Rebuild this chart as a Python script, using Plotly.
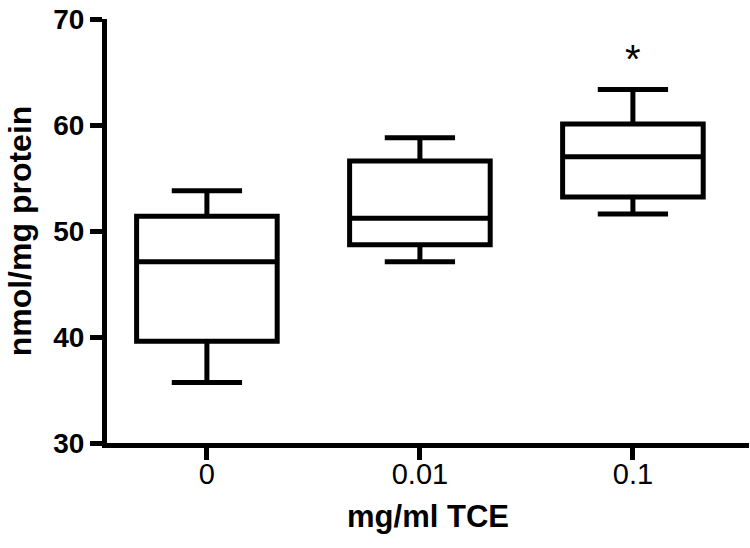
import plotly.graph_objects as go

categories = ["0", "0.01", "0.1"]
positions = [0, 1, 2]
lower_whisker = [35.7, 47.1, 51.6]
q1_values = [39.6, 48.7, 53.2]
medians = [47.1, 51.2, 57.0]
q3_values = [51.4, 56.6, 60.1]
upper_whisker = [53.8, 58.8, 63.35]
y_ticks = [30, 40, 50, 60, 70]
star_label = "*"
star_value = 66.7

FONT = "Liberation Sans, Arial, sans-serif"

fig = go.Figure()
fig.add_trace(go.Box(
    x=positions,
    q1=q1_values,
    median=medians,
    q3=q3_values,
    lowerfence=lower_whisker,
    upperfence=upper_whisker,
    width=0.66,
    whiskerwidth=0.5,
    line=dict(color="black", width=5),
    fillcolor="rgba(255,255,255,0)",
    boxpoints=False,
    hoverinfo="skip",
    showlegend=False,
))

fig.add_annotation(
    x=positions[2], y=star_value, text=star_label, showarrow=False,
    font=dict(family=FONT, size=40, color="black"),
    xanchor="center", yanchor="middle", yshift=-5,
)

fig.update_layout(
    width=750, height=548,
    margin=dict(l=107, r=1, t=19, b=105, autoexpand=False),
    plot_bgcolor="white", paper_bgcolor="white",
    showlegend=False,
)
fig.update_xaxes(
    range=[-0.469, 2.545],
    tickvals=positions, ticktext=categories,
    showgrid=False, zeroline=False, automargin=False,
    showline=True, linecolor="black", linewidth=5,
    ticks="outside", ticklen=12, tickwidth=5, tickcolor="black",
    ticklabelstandoff=-11,
    tickfont=dict(family=FONT, size=29, color="black"),
    title=dict(text="mg/ml TCE", font=dict(family=FONT, size=31, color="black", weight="bold"), standoff=18),
)
fig.update_yaxes(
    range=[30, 70],
    tickvals=y_ticks,
    showgrid=False, zeroline=False, automargin=False,
    showline=True, linecolor="black", linewidth=5,
    ticks="outside", ticklen=12, tickwidth=5, tickcolor="black",
    tickfont=dict(family=FONT, size=28, color="black", weight="bold"),
    title=dict(text="nmol/mg protein", font=dict(family=FONT, size=32, color="black", weight="bold"), standoff=14),
)

fig.write_html(
    "out.html",
    config={"displayModeBar": False},
    post_script="document.body.style.margin='0';",
)
